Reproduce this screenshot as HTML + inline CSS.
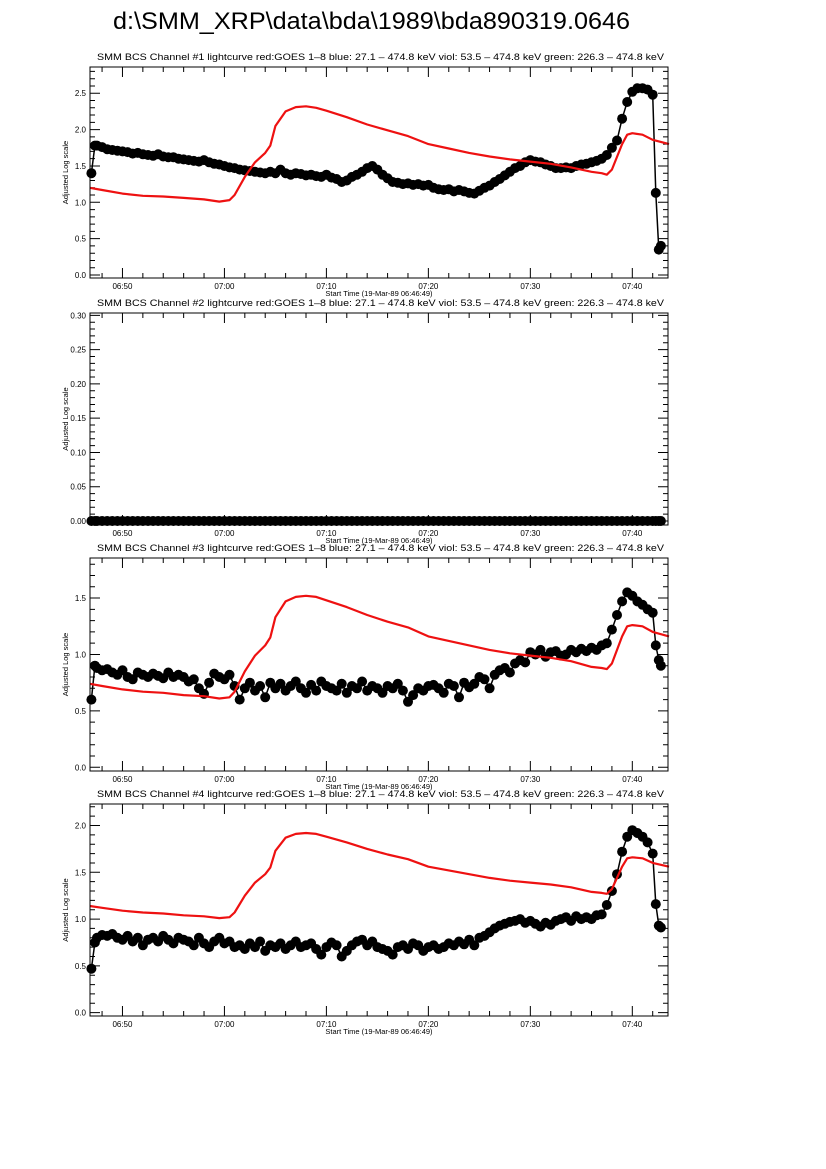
<!DOCTYPE html>
<html><head><meta charset="utf-8"><style>
html,body{margin:0;padding:0;background:#fff;}
svg{display:block;font-family:"Liberation Sans",sans-serif;}
</style></head><body>
<svg id="chart" width="826" height="1169" viewBox="0 0 826 1169" xmlns="http://www.w3.org/2000/svg">
<rect width="826" height="1169" fill="#fff"/>
<text x="113" y="29" font-size="24" textLength="517" lengthAdjust="spacingAndGlyphs">d:\SMM_XRP\data\bda\1989\bda890319.0646</text>
</svg>
<script>
// ---- data (time in minutes after 06:00) ----
const xTickLabels = ["06:50","07:00","07:10","07:20","07:30","07:40"];
const xTickMinutes = [50,60,70,80,90,100];
const blackStartT = [46.95, 47.3];
const blackTailT = [102.0, 102.3, 102.6, 102.8];
// main black grid: 47.5 .. 101.5 step 0.5
const gridStart = 47.5, gridStep = 0.5;

const ch1Head = [1.40, 1.78];
const ch1Values = [1.78,1.76,1.73,1.72,1.71,1.70,
1.69,1.67,1.68,1.66,1.65,1.64,1.66,1.63,1.62,1.62,
1.60,1.59,1.58,1.57,1.56,1.58,1.55,1.53,1.52,1.50,
1.48,1.47,1.45,1.44,1.43,1.42,1.41,1.40,1.42,1.40,
1.45,1.40,1.38,1.40,1.39,1.37,1.38,1.36,1.35,1.38,
1.34,1.32,1.28,1.30,1.35,1.38,1.42,1.47,1.50,1.45,
1.38,1.33,1.28,1.27,1.25,1.26,1.24,1.25,1.23,1.24,
1.20,1.18,1.17,1.18,1.15,1.17,1.15,1.13,1.12,1.16,
1.20,1.23,1.28,1.32,1.37,1.42,1.47,1.50,1.55,1.58,
1.56,1.55,1.52,1.50,1.47,1.47,1.48,1.47,1.50,1.52,
1.53,1.55,1.57,1.60,1.65,1.75,1.85,2.15,2.38,2.52,
2.57,2.57,2.55];
const ch1Tail = [2.48, 1.13, 0.35, 0.40];

const ch2Head = [0, 0];
const ch2Values = [0,0,0,0,0,0,0,0,0,0,0,0,0,0,0,0,0,0,0,0,0,0,0,0,0,0,0,0,0,0,0,0,0,0,0,0,0,0,0,0,0,0,0,0,0,0,0,0,0,0,0,0,0,0,0,0,0,0,0,0,0,0,0,0,0,0,0,0,0,0,0,0,0,0,0,0,0,0,0,0,0,0,0,0,0,0,0,0,0,0,0,0,0,0,0,0,0,0,0,0,0,0,0,0,0,0,0,0,0];
const ch2Tail = [0, 0, 0, 0];

const ch3Head = [0.60, 0.90];
const ch3Values = [0.88,0.86,0.87,0.84,0.82,0.86,
0.80,0.78,0.84,0.82,0.80,0.83,0.81,0.79,0.84,0.80,
0.82,0.80,0.76,0.78,0.70,0.65,0.75,0.83,0.80,0.78,
0.82,0.72,0.60,0.70,0.75,0.68,0.72,0.62,0.75,0.70,
0.74,0.68,0.72,0.76,0.70,0.66,0.73,0.68,0.76,0.72,
0.70,0.68,0.74,0.66,0.72,0.70,0.76,0.68,0.72,0.70,
0.66,0.72,0.70,0.74,0.68,0.58,0.64,0.70,0.68,0.72,
0.73,0.70,0.66,0.74,0.72,0.62,0.75,0.71,0.74,0.80,
0.78,0.70,0.82,0.86,0.88,0.84,0.92,0.95,0.93,1.02,
1.00,1.04,0.98,1.02,1.03,0.99,1.00,1.04,1.02,1.05,
1.03,1.06,1.04,1.08,1.10,1.22,1.35,1.47,1.55,1.52,
1.47,1.44,1.40];
const ch3Tail = [1.37, 1.08, 0.95, 0.90];

const ch4Head = [0.47, 0.75];
const ch4Values = [0.80,0.83,0.82,0.84,0.80,0.78,
0.82,0.76,0.80,0.72,0.78,0.80,0.76,0.82,0.78,0.74,
0.80,0.78,0.76,0.72,0.80,0.74,0.70,0.76,0.80,0.74,
0.76,0.70,0.72,0.68,0.74,0.70,0.76,0.66,0.72,0.70,
0.74,0.68,0.72,0.76,0.70,0.72,0.74,0.68,0.62,0.70,
0.75,0.72,0.60,0.66,0.72,0.76,0.78,0.72,0.76,0.70,
0.68,0.66,0.62,0.70,0.72,0.68,0.74,0.72,0.66,0.70,
0.72,0.68,0.70,0.74,0.72,0.76,0.73,0.78,0.72,0.80,
0.82,0.86,0.90,0.93,0.95,0.97,0.98,1.00,0.96,0.98,
0.95,0.92,0.96,0.94,0.98,1.00,1.02,0.98,1.03,1.00,
1.02,1.00,1.04,1.05,1.15,1.30,1.48,1.72,1.88,1.95,
1.92,1.88,1.82];
const ch4Tail = [1.70, 1.16, 0.93, 0.91];

const redT = [46.8,48,50,52,54,56,58,59.5,60.5,61,62,63,64,64.5,65,66,67,68,69,70,72,74,76,78,80,82,84,86,88,90,92,94,96,97,97.5,98,99,99.5,100,101,102,103.6];
const red1 = [1.20,1.17,1.12,1.09,1.08,1.06,1.04,1.01,1.03,1.10,1.35,1.55,1.68,1.78,2.05,2.25,2.31,2.32,2.30,2.26,2.17,2.07,1.99,1.91,1.80,1.74,1.68,1.63,1.59,1.56,1.53,1.48,1.42,1.40,1.38,1.45,1.80,1.93,1.95,1.93,1.86,1.80];
const red3 = [0.74,0.72,0.69,0.67,0.66,0.64,0.63,0.61,0.62,0.67,0.85,0.99,1.08,1.15,1.33,1.47,1.51,1.52,1.51,1.48,1.42,1.35,1.29,1.24,1.16,1.12,1.08,1.04,1.01,0.99,0.97,0.94,0.89,0.88,0.87,0.92,1.16,1.25,1.26,1.25,1.20,1.16];
const red4 = [1.14,1.12,1.09,1.07,1.06,1.04,1.03,1.01,1.02,1.07,1.25,1.39,1.48,1.55,1.73,1.87,1.91,1.92,1.91,1.88,1.82,1.75,1.69,1.64,1.56,1.52,1.48,1.44,1.41,1.39,1.37,1.34,1.29,1.28,1.27,1.32,1.56,1.65,1.66,1.65,1.60,1.56];

// ---- layout ----
const NS = "http://www.w3.org/2000/svg";
const svg = document.getElementById('chart');
const X0 = 90, X1 = 668, T0 = 46 + 49/60, T1 = 103.5;
function xs(t){ return X0 + (t - T0) / (T1 - T0) * (X1 - X0); }
function mk(tag, attrs, parent){ const e = document.createElementNS(NS, tag); for (const k in attrs) e.setAttribute(k, attrs[k]); (parent||svg).appendChild(e); return e; }

const panels = [
 {n:1, top:67, bot:278, ymin:-0.041, ymax:2.861, maj:[0,0.5,1,1.5,2,2.5], fmt:1, minStep:0.1, head:ch1Head, vals:ch1Values, tail:ch1Tail, red:red1},
 {n:2, top:313, bot:525, ymin:-0.0058, ymax:0.3034, maj:[0,0.05,0.1,0.15,0.2,0.25,0.3], fmt:2, minStep:0.01, head:ch2Head, vals:ch2Values, tail:ch2Tail, red:null},
 {n:3, top:558, bot:771, ymin:-0.033, ymax:1.855, maj:[0,0.5,1,1.5], fmt:1, minStep:0.1, head:ch3Head, vals:ch3Values, tail:ch3Tail, red:red3},
 {n:4, top:804, bot:1016, ymin:-0.036, ymax:2.23, maj:[0,0.5,1,1.5,2], fmt:1, minStep:0.1, head:ch4Head, vals:ch4Values, tail:ch4Tail, red:red4}
];

panels.forEach(p => {
  const g = mk('g', {});
  
  
  const ys = v => p.bot - (v - p.ymin) / (p.ymax - p.ymin) * (p.bot - p.top);
  const title = mk('text', {x:97, y:p.top-7, 'font-size':9, textLength:567, lengthAdjust:'spacingAndGlyphs'}, g);
  title.textContent = 'SMM BCS Channel #' + p.n + ' lightcurve  red:GOES 1\u20138  blue: 27.1 \u2013 474.8 keV  viol: 53.5 \u2013 474.8 keV  green: 226.3 \u2013 474.8 keV';
  
  
  let d = '';
  for (let m = 48; m <= 103; m += 2) {
    const x = xs(m), L = (m % 10 === 0) ? 10 : 5;
    d += `M${x},${p.bot}v${-L}M${x},${p.top}v${L}`;
  }
  const nMin = Math.round((p.ymax - 0) / p.minStep);
  for (let i = 0; i <= nMin; i++) {
    const v = i * p.minStep; if (v > p.ymax) break;
    const y = ys(v); const isMaj = p.maj.some(a => Math.abs(a - v) < 1e-6);
    const L = isMaj ? 10 : 5;
    d += `M${X0},${y}h${L}M${X1},${y}h${-L}`;
  }
  const ticks = mk('path', {d:d, stroke:'#000', 'stroke-width':1, fill:'none'}, g);
  
  
  p.maj.forEach(v => {
    const t = mk('text', {x:86, y:ys(v)+3, 'font-size':8, 'text-anchor':'end'}, g);
    t.textContent = v.toFixed(p.fmt);
    
    
  });
  xTickMinutes.forEach((m, i) => {
    const t = mk('text', {x:xs(m), y:p.bot+11, 'font-size':8, 'text-anchor':'middle'}, g);
    t.textContent = xTickLabels[i];
    
    
  });
  const xt = mk('text', {x:379, y:p.bot+18, 'font-size':7.5, 'text-anchor':'middle'}, g);
  xt.textContent = 'Start Time (19-Mar-89 06:46:49)';
  
  
  const cy = (p.top + p.bot) / 2;
  const yt = mk('text', {x:0, y:0, 'font-size':7.5, 'text-anchor':'middle', transform:`translate(68,${cy}) rotate(-90)`}, g);
  yt.textContent = 'Adjusted Log scale';
  
  
  const pts = [];
  blackStartT.forEach((t, i) => pts.push([t, p.head[i]]));
  p.vals.forEach((v, i) => pts.push([gridStart + i * gridStep, v]));
  blackTailT.forEach((t, i) => pts.push([t, p.tail[i]]));
  const line = mk('polyline', {points: pts.map(q => xs(q[0]).toFixed(1) + ',' + ys(q[1]).toFixed(1)).join(' '), fill:'none', stroke:'#000', 'stroke-width':1.5}, g);
  
  
  pts.forEach(q => {
    const c = mk('circle', {cx:xs(q[0]).toFixed(1), cy:ys(q[1]).toFixed(1), r:5, fill:'#000'}, g);
    
    
  });
  if (p.red) {
    const rl = mk('polyline', {points: redT.map((t, i) => xs(t).toFixed(1) + ',' + ys(p.red[i]).toFixed(1)).join(' '), fill:'none', stroke:'#ee1111', 'stroke-width':2.2, 'stroke-linejoin':'round'}, g);
    
    
  }
  const frame = mk('rect', {x:X0, y:p.top, width:X1-X0, height:p.bot-p.top, fill:'none', stroke:'#000', 'stroke-width':1}, g);
  
  
});
</script>
</body></html>
